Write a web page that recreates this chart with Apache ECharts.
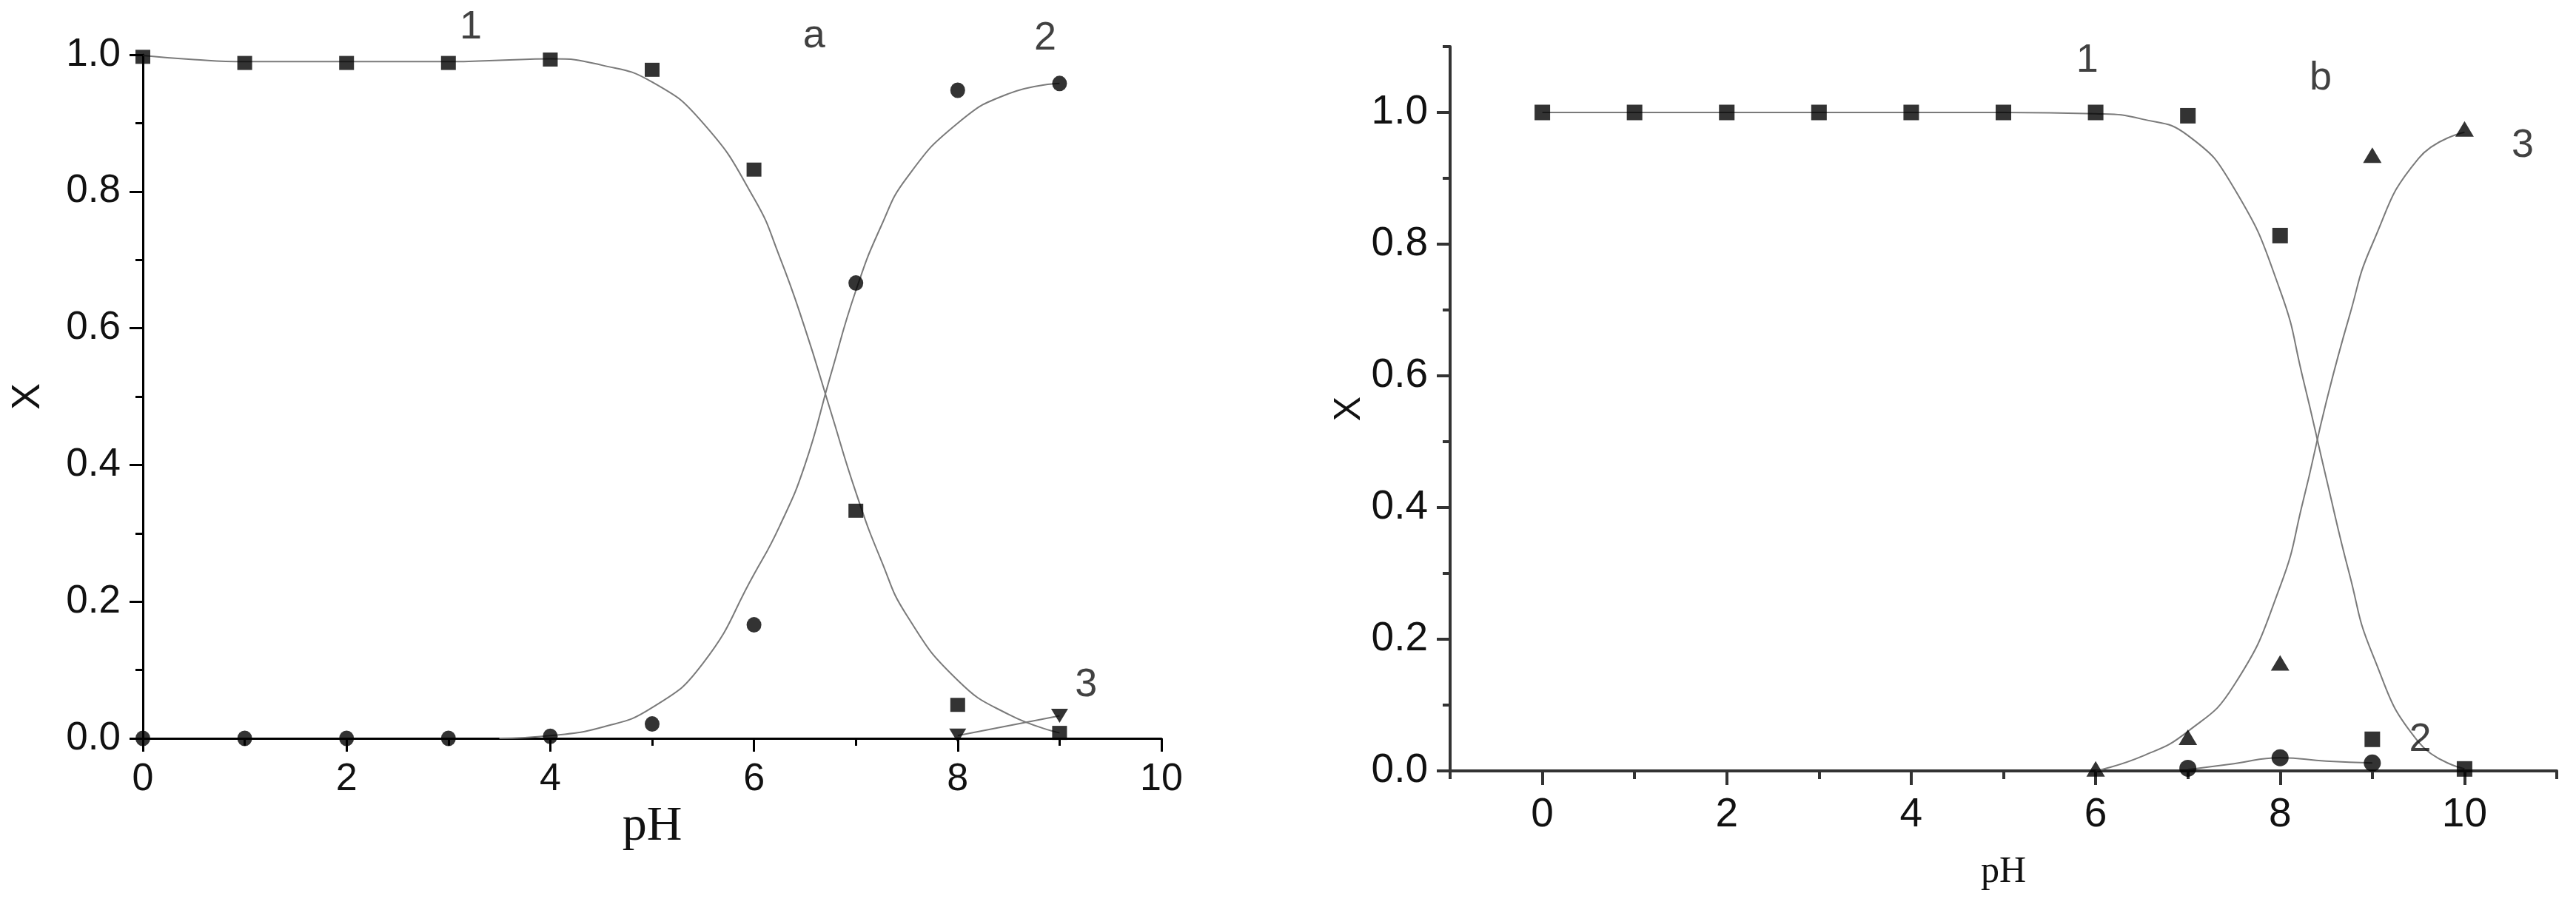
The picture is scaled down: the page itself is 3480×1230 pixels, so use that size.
<!DOCTYPE html>
<html>
<head>
<meta charset="utf-8">
<script src="https://cdn.jsdelivr.net/npm/echarts@6/dist/echarts.min.js"></script>
<style>
html,body{margin:0;padding:0;background:#fff;}
#chart{width:3480px;height:1230px;}
</style>
</head>
<body>
<div id="chart"></div>
<script>
// ---------- Panel a ----------
const phA = [0, 1, 2, 3, 4, 5, 6, 7, 8, 9];
const aSpecies1 = [0.997, 0.988, 0.988, 0.988, 0.993, 0.978, 0.832, 0.333, 0.049, 0.008];
const aSpecies2 = [0.0, 0.0, 0.0, 0.0, 0.003, 0.021, 0.166, 0.666, 0.948, 0.958];
const phA3 = [8, 9];
const aSpecies3 = [0.004, 0.033];

const aFit1Ph = [0, 0.5, 1, 1.5, 2, 2.5, 3, 3.5, 4, 4.5, 5, 5.5, 6, 6.25, 6.5, 6.75, 7, 7.25, 7.5, 8, 8.5, 9];
const aFit1 = [0.999, 0.993, 0.990, 0.990, 0.990, 0.990, 0.990, 0.992, 0.994, 0.985, 0.960, 0.900, 0.790, 0.705, 0.600, 0.480, 0.360, 0.260, 0.180, 0.085, 0.035, 0.008];
const aFit2Ph = [3.5, 4, 4.5, 5, 5.5, 6, 6.25, 6.5, 6.75, 7, 7.25, 7.5, 8, 8.5, 9];
const aFit2 = [0.0, 0.004, 0.016, 0.045, 0.110, 0.240, 0.310, 0.400, 0.530, 0.655, 0.750, 0.820, 0.900, 0.943, 0.958];
const aFit3Ph = [8, 9];
const aFit3 = [0.004, 0.033];

const aLabelText = ['1', 'a', '2', '3'];
const aLabelPh = [3.22, 6.59, 8.86, 9.26];
const aLabelX = [1.04, 1.027, 1.024, 0.078];

// ---------- Panel b ----------
const phB = [0, 1, 2, 3, 4, 5, 6, 7, 8, 9, 10];
const bSpecies1 = [1.0, 1.0, 1.0, 1.0, 1.0, 1.0, 1.0, 0.995, 0.813, 0.048, 0.003];
const phB2 = [7, 8, 9];
const bSpecies2 = [0.004, 0.020, 0.012];
const phB3 = [6, 7, 8, 9, 10];
const bSpecies3 = [0.003, 0.051, 0.164, 0.935, 0.975];

const bFit1Ph = [0, 1, 2, 3, 4, 5, 6, 6.5, 7, 7.5, 8, 8.25, 8.5, 8.75, 9, 9.5, 10];
const bFit1 = [1.0, 1.0, 1.0, 1.0, 1.0, 1.0, 0.998, 0.990, 0.965, 0.885, 0.730, 0.595, 0.445, 0.300, 0.178, 0.044, 0.003];
const bFit2Ph = [7, 7.5, 8, 8.5, 9];
const bFit2 = [0.002, 0.011, 0.020, 0.015, 0.012];
const bFit3Ph = [6, 6.5, 7, 7.5, 8, 8.25, 8.5, 8.75, 9, 9.5, 10];
const bFit3 = [0.0, 0.022, 0.060, 0.130, 0.280, 0.410, 0.560, 0.690, 0.800, 0.930, 0.970];

const bLabelText = ['1', 'b', '3', '2'];
const bLabelPh = [5.91, 8.44, 10.63, 9.52];
const bLabelX = [1.079, 1.052, 0.949, 0.047];

const majorXB = [0, 2, 4, 6, 8, 10];
const majorYB = [0, 0.2, 0.4, 0.6, 0.8, 1.0];

// ---------- helpers ----------
const zip = (xs, ys) => xs.map((x, i) => [x, ys[i]]);
const SANS = "'Liberation Sans', Arial, sans-serif";
const SERIF = "'Liberation Serif', 'Times New Roman', serif";
const CURVE = '#7a7a7a';

function fitLine(xi, yi, xs, ys, smooth) {
  return {
    type: 'line', xAxisIndex: xi, yAxisIndex: yi, data: zip(xs, ys),
    symbol: 'none', smooth: smooth,
    lineStyle: { color: CURVE, width: 2 }, z: 2, silent: true
  };
}
function marks(xi, yi, xs, ys, symbol, size, rotate) {
  return {
    type: 'scatter', xAxisIndex: xi, yAxisIndex: yi, data: zip(xs, ys),
    symbol: symbol, symbolSize: size, symbolRotate: rotate || 0,
    itemStyle: { color: '#000' }, z: 3, clip: false
  };
}
function labels(xi, yi, xs, ys, texts) {
  return {
    type: 'scatter', xAxisIndex: xi, yAxisIndex: yi,
    data: xs.map((x, i) => ({ value: [x, ys[i]], name: texts[i] })),
    symbolSize: 1, itemStyle: { color: 'rgba(0,0,0,0)' }, clip: false, z: 4,
    label: { show: true, position: 'inside', formatter: p => p.name,
             fontFamily: SANS, fontSize: 54, color: '#111' }
  };
}

const fmt1 = v => Number(v).toFixed(1);

const option = {
  backgroundColor: '#ffffff',
  animation: false,
  grid: [
    { left: 193, top: 74, width: 1376, height: 924 },
    { left: 1959, top: 63, width: 1495, height: 979 }
  ],
  xAxis: [
    { // a main
      gridIndex: 0, type: 'value', min: 0, max: 10, interval: 2,
      name: 'pH', nameLocation: 'middle', nameGap: 52,
      nameTextStyle: { fontFamily: SERIF, fontSize: 66, color: '#111' },
      axisLine: { show: true, lineStyle: { color: '#000', width: 3 } },
      axisTick: { show: true, inside: false, length: 18, lineStyle: { color: '#000', width: 3 } },
      minorTick: { show: true, splitNumber: 2, length: 10, lineStyle: { color: '#000', width: 3 } },
      axisLabel: { margin: 30, fontFamily: SANS, fontSize: 52, color: '#111' },
      splitLine: { show: false }
    },
    { // b main
      gridIndex: 1, type: 'value', min: -1, max: 11,
      name: 'pH', nameLocation: 'middle', nameGap: 112,
      nameTextStyle: { fontFamily: SERIF, fontSize: 50, color: '#111' },
      axisLine: { show: true, onZero: false, lineStyle: { color: '#333', width: 4 } },
      axisTick: { show: true, length: 19, customValues: majorXB, lineStyle: { color: '#333', width: 4 } },
      axisLabel: { margin: 32, customValues: majorXB, fontFamily: SANS, fontSize: 55, color: '#111' },
      splitLine: { show: false }
    },
    { // b minor ticks
      gridIndex: 1, type: 'value', min: -1, max: 11, interval: 1, position: 'bottom',
      axisLine: { show: false, onZero: false },
      axisTick: { show: true, length: 11, lineStyle: { color: '#333', width: 4 } },
      axisLabel: { show: false }, splitLine: { show: false }
    }
  ],
  yAxis: [
    { // a main
      gridIndex: 0, type: 'value', min: 0, max: 1, interval: 0.2,
      name: 'X', nameLocation: 'middle', nameGap: 128, nameRotate: 90,
      nameTextStyle: { fontFamily: SANS, fontSize: 54, color: '#111' },
      axisLine: { show: true, lineStyle: { color: '#000', width: 3 } },
      axisTick: { show: true, length: 18, lineStyle: { color: '#000', width: 3 } },
      minorTick: { show: true, splitNumber: 2, length: 10, lineStyle: { color: '#000', width: 3 } },
      axisLabel: { margin: 30, formatter: fmt1, fontFamily: SANS, fontSize: 53, color: '#111' },
      splitLine: { show: false }
    },
    { // b main
      gridIndex: 1, type: 'value', min: 0, max: 1.1,
      name: 'X', nameLocation: 'middle', nameGap: 110, nameRotate: 90,
      nameTextStyle: { fontFamily: SANS, fontSize: 50, color: '#111' },
      axisLine: { show: true, onZero: false, lineStyle: { color: '#333', width: 4 } },
      axisTick: { show: true, length: 18, customValues: majorYB, lineStyle: { color: '#333', width: 4 } },
      axisLabel: { margin: 30, customValues: majorYB, formatter: fmt1, fontFamily: SANS, fontSize: 55, color: '#111' },
      splitLine: { show: false }
    },
    { // b minor ticks
      gridIndex: 1, type: 'value', min: 0, max: 1.1, interval: 0.1, position: 'left',
      axisLine: { show: false, onZero: false },
      axisTick: { show: true, length: 10, lineStyle: { color: '#333', width: 4 } },
      axisLabel: { show: false }, splitLine: { show: false }
    }
  ],
  series: [
    // panel a
    fitLine(0, 0, aFit1Ph, aFit1, 0.5),
    fitLine(0, 0, aFit2Ph, aFit2, 0.5),
    fitLine(0, 0, aFit3Ph, aFit3, false),
    marks(0, 0, phA, aSpecies1, 'rect', [20, 19]),
    marks(0, 0, phA, aSpecies2, 'circle', [20, 21]),
    marks(0, 0, phA3, aSpecies3, 'triangle', [23, 19], 180),
    labels(0, 0, aLabelPh, aLabelX, aLabelText),
    // panel b
    fitLine(1, 1, bFit1Ph, bFit1, 0.5),
    fitLine(1, 1, bFit2Ph, bFit2, 0.5),
    fitLine(1, 1, bFit3Ph, bFit3, 0.5),
    marks(1, 1, phB, bSpecies1, 'rect', [21, 21]),
    marks(1, 1, phB2, bSpecies2, 'circle', [23, 23]),
    marks(1, 1, phB3, bSpecies3, 'triangle', [25, 21]),
    labels(1, 1, bLabelPh, bLabelX, bLabelText)
  ]
};

const chart = echarts.init(document.getElementById('chart'), null, { renderer: 'canvas' });
chart.setOption(option);
</script>
</body>
</html>
